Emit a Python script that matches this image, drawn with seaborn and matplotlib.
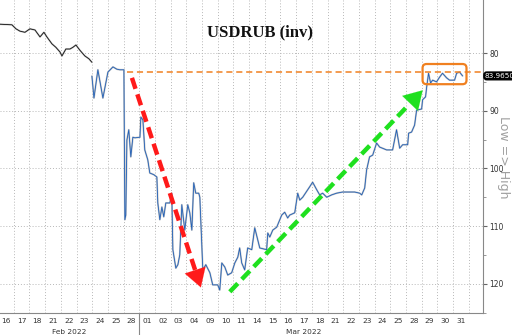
import matplotlib
matplotlib.use("Agg")
import matplotlib.pyplot as plt
import matplotlib.transforms as mtransforms
from matplotlib.patches import FancyBboxPatch
import seaborn as sns
import pandas as pd

# ---- data (trading-day index, inverted USDRUB level) ----
day_labels = ["16", "17", "18", "21", "22", "23", "24", "25", "28",
              "01", "02", "03", "04", "09", "10", "11", "14", "15", "16", "17",
              "18", "21", "22", "23", "24", "25", "28", "29", "30", "31"]
month_labels = ["Feb 2022", "Mar 2022"]
month_days = [9, 21]

seg1_t = [-0.38, 0.38, 0.64, 0.89, 1.21, 1.53, 1.85, 2.17, 2.42, 2.61, 2.93, 3.18,
          3.44, 3.57, 3.82, 4.08, 4.27, 4.46, 4.71, 5.03, 5.29, 5.48]
seg1_v = [75.0, 75.1, 75.8, 76.2, 76.4, 75.8, 76.0, 77.2, 76.4, 77.2, 78.4, 79.0,
          79.8, 80.5, 79.3, 79.3, 79.0, 78.6, 79.5, 80.5, 81.0, 81.6]

seg2_t = [5.48, 5.61, 5.86, 6.18, 6.50, 6.82, 7.07, 7.26, 7.52, 7.58, 7.64, 7.71,
          7.83, 7.96, 8.09, 8.22, 8.54, 8.60, 8.73, 8.85, 9.04, 9.17, 9.43, 9.62,
          9.68, 9.81, 9.94, 10.06, 10.19, 10.45, 10.57, 10.64, 10.83, 10.96, 11.08,
          11.21, 11.40, 11.59, 11.72, 11.85, 11.97, 12.10, 12.29, 12.36, 12.55,
          12.74, 13.00, 13.18, 13.50, 13.63, 13.76, 13.95, 14.14, 14.39, 14.59,
          14.78, 14.90, 15.03, 15.22, 15.41, 15.67, 15.86, 16.18, 16.62, 16.69,
          16.82, 17.01, 17.26, 17.58, 17.77, 17.96, 18.09, 18.41, 18.60, 18.73,
          18.92, 19.36, 19.55, 19.81, 20.00, 20.19, 20.45, 20.76, 21.08, 21.46,
          21.91, 22.23, 22.55, 22.68, 22.87, 22.99, 23.18, 23.38, 23.63, 23.82,
          24.27, 24.65, 24.90, 25.10, 25.29, 25.61, 25.67, 25.86, 26.05, 26.18,
          26.50, 26.56, 26.75, 26.82, 26.94, 27.07, 27.20, 27.45, 27.64, 27.83,
          28.09, 28.28, 28.60, 28.73, 28.92, 29.11]
seg2_v = [84.0, 87.8, 82.9, 87.8, 83.3, 82.4, 82.8, 82.9, 82.9, 108.9, 108.1, 95.1,
          93.3, 98.0, 94.6, 94.7, 94.6, 91.1, 91.6, 96.8, 98.5, 100.8, 101.1, 101.5,
          106.0, 108.9, 106.7, 108.4, 106.0, 106.0, 104.3, 114.1, 117.3, 116.7, 115.0,
          106.3, 110.7, 106.3, 107.7, 110.7, 102.5, 104.3, 104.3, 105.0, 117.6,
          116.7, 118.1, 120.2, 120.2, 121.1, 116.4, 117.1, 118.5, 118.1, 116.4,
          115.4, 113.8, 116.4, 117.6, 113.8, 114.1, 110.3, 113.8, 114.1, 111.2,
          111.9, 110.7, 110.2, 108.1, 107.6, 108.6, 108.1, 107.7, 104.3, 105.5,
          105.0, 103.2, 102.4, 103.7, 104.6, 104.3, 105.0, 104.6, 104.3, 104.1,
          104.1, 104.1, 104.3, 104.6, 103.4, 100.3, 98.0, 97.7, 95.6, 96.3,
          96.8, 96.8, 93.3, 96.5, 95.9, 95.9, 93.9, 93.7, 92.5, 89.9,
          89.7, 88.1, 87.6, 85.9, 83.5, 85.2, 84.7, 85.0, 84.2, 83.5,
          84.3, 84.7, 84.7, 83.5, 83.3, 83.965]

last_value = 83.965
ref_level = 83.3
ref_start = 7.71
y_ticks = [80, 90, 100, 110, 120]
y_minor = [85, 95, 105, 115, 125]

# annotation geometry (data coords)
red_start, red_end = (8.03, 84.3), (12.48, 121.1)
green_start, green_end = (14.27, 121.4), (26.69, 86.1)
box_t, box_v = (26.56, 29.36), (81.9, 85.4)

sns.set_style("white")
plt.rcParams['font.family'] = ['DejaVu Sans']

fig = plt.figure(figsize=(5.12, 3.35), dpi=100)
ax = fig.add_axes([0, 0.066, 0.943, 0.934])

df1 = pd.DataFrame({"t": seg1_t, "v": seg1_v})
df2 = pd.DataFrame({"t": seg2_t, "v": seg2_v})
for d in (df1, df2):
    sns.lineplot(data=d, x="t", y="v", ax=ax, sort=False, estimator=None,
                 color="#c4c4c4", linewidth=1.3)
sns.lineplot(data=df1, x="t", y="v", ax=ax, sort=False, estimator=None,
             color="#111111", linewidth=0.6)
sns.lineplot(data=df2, x="t", y="v", ax=ax, sort=False, estimator=None,
             color="#1f5fb8", linewidth=0.6)
for i, ln in enumerate(ax.lines):
    ln.set_zorder(3 if i < 2 else 4)

ax.set_xlim(-0.38, 30.4)
ax.set_ylim(125.06, 70.8)
ax.set_xlabel("")
ax.set_ylabel("")

# axes styling
for s in ("left", "top"):
    ax.spines[s].set_visible(False)
for s in ("right", "bottom"):
    ax.spines[s].set_color("#888888")
    ax.spines[s].set_linewidth(0.8)

ax.yaxis.tick_right()
ax.set_yticks(y_ticks)
ax.set_yticks(y_minor, minor=True)
ax.set_yticklabels([str(v) for v in y_ticks])
ax.tick_params(axis="y", which="major", length=3, width=0.8, color="#666666",
               labelsize=5.5, labelcolor="#333333", pad=1.5)
ax.tick_params(axis="y", which="minor", length=2, width=0.6, color="#888888")

ax.set_xticks(range(len(day_labels)))
ax.set_xticklabels(day_labels)
ax.set_xticks([i + 0.5 for i in range(len(day_labels))], minor=True)
ax.tick_params(axis="x", which="both", length=0, labelsize=5.3,
               labelcolor="#333333", pad=3.5)
ax.grid(False)
ax.grid(which="minor", axis="x", ls=(0, (1, 2)), color="#b8b8b8", lw=0.7)
ax.grid(which="major", axis="y", ls=(0, (1, 2)), color="#b8b8b8", lw=0.7)

# month labels and separator
bt = mtransforms.blended_transform_factory(ax.transData, ax.transAxes)
start = 0
for lab, n in zip(month_labels, month_days):
    ax.text(start + (n - 1) / 2, -0.062, lab, transform=bt, ha="center", va="center",
            fontsize=5.3, color="#333333")
    start += n
ax.plot([month_days[0] - 0.5] * 2, [0, -0.075], transform=bt, color="#888888",
        lw=0.8, clip_on=False)

# reference level
ax.hlines(ref_level, ref_start, 30.4, colors="#f08020", linestyles=(0, (4, 2.5)),
          lw=1.1, zorder=5)

# last value tag
bt_y = mtransforms.blended_transform_factory(ax.transAxes, ax.transData)
ax.text(1.004, last_value, f"{last_value:.4f}", transform=bt_y, ha="left",
        va="center", fontsize=5.2, color="white", clip_on=False,
        bbox=dict(boxstyle="round,pad=0.12,rounding_size=0.4", fc="black",
                  ec="black"))

# arrows
def dashed_arrow(p0, p1, color):
    f = 0.92
    mid = (p0[0] + (p1[0] - p0[0]) * f, p0[1] + (p1[1] - p0[1]) * f)
    ax.plot([p0[0], mid[0]], [p0[1], mid[1]], color=color, lw=3.2,
            ls=(0, (2.6, 1.3)), zorder=6, solid_capstyle="butt")
    ax.annotate("", xy=p1, xytext=mid,
                arrowprops=dict(arrowstyle="-|>,head_length=1.0,head_width=0.6",
                                color=color, lw=0.1, mutation_scale=13),
                zorder=6)

dashed_arrow(red_start, red_end, "#ff1a1a")
dashed_arrow(green_start, green_end, "#1fe01f")

# orange highlight box (in display coords)
fig.canvas.draw()
(x0, y0) = ax.transData.transform((box_t[0], box_v[1]))
(x1, y1) = ax.transData.transform((box_t[1], box_v[0]))
box = FancyBboxPatch((x0, y0), x1 - x0, y1 - y0,
                     boxstyle="round,pad=0,rounding_size=4", fc="none",
                     ec="#f08020", lw=1.6, transform=None, zorder=7)
fig.patches.append(box)

# title and side label
ax.text(0.538, 0.895, "USDRUB (inv)", transform=ax.transAxes, ha="center",
        va="center", fontsize=12, fontweight="bold",
        family=["Liberation Serif", "DejaVu Serif"], color="#111111")
fig.text(0.984, 0.531, "Low => High", rotation=270, ha="center", va="center",
         fontsize=9, color="#a0a0a0")

fig.savefig("out.png", dpi=100)
